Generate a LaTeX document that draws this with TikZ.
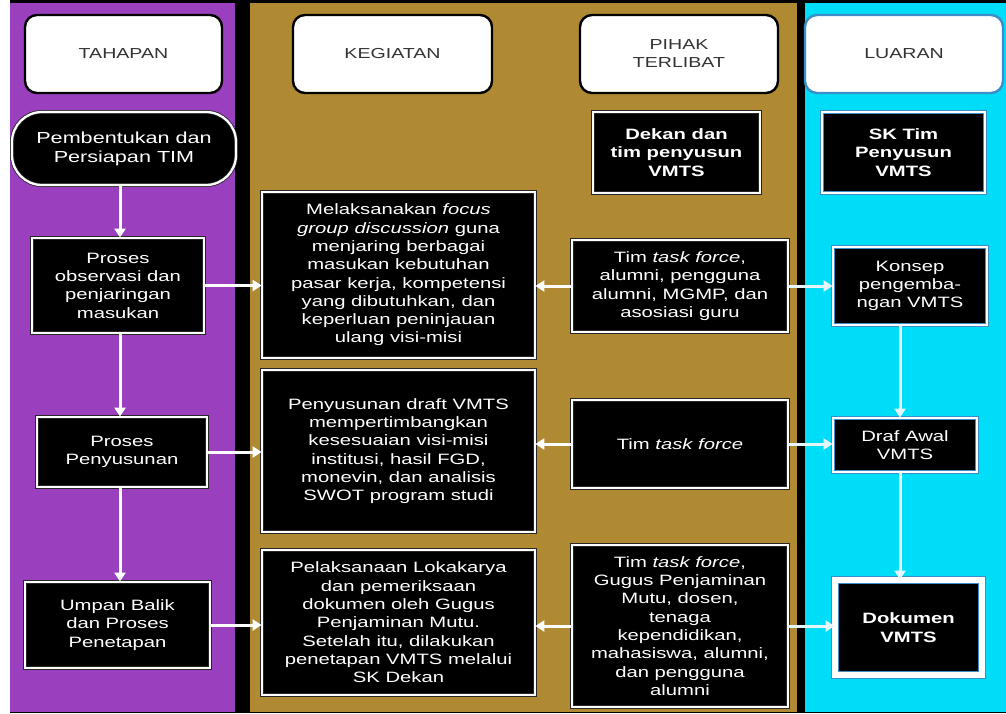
\documentclass[tikz,border=0pt]{standalone}
\usepackage{fontspec}
\setmainfont{Liberation Sans}[FakeStretch=1.35]
\usetikzlibrary{arrows.meta}
\definecolor{cpurple}{HTML}{9A3FBE}
\definecolor{cgold}{HTML}{B08A32}
\definecolor{ccyan}{HTML}{00DDF8}
\definecolor{hdrtext}{HTML}{333333}
\definecolor{lightarrow}{HTML}{E4F6FF}
\definecolor{blueedge}{HTML}{3A8FC8}
\tikzset{
  bodyfont/.style={font=\fontsize{15}{18.3}\selectfont},
  box/.style={rectangle, fill=black, draw=black!85, double=white, double distance=2.3pt, line width=0.8pt,
    text=white, align=center, inner sep=2pt, bodyfont},
  lbox/.style={box, draw=blueedge},
  hdr/.style={rectangle, rounded corners=12pt, fill=white, draw=black, line width=2.4pt,
    text=hdrtext, align=center, font=\fontsize{14.5}{18}\selectfont, minimum height=78pt},
  arr/.style={draw=white, line width=3pt, -{Triangle[length=9pt,width=11pt]}},
  larr/.style={arr, draw=lightarrow, fill=lightarrow},
}
\begin{document}
\begin{tikzpicture}[x=1pt,y=-1pt]
\useasboundingbox (0,0) rectangle (1006,713);
% background columns
\fill[white] (0,0) rectangle (1006,713);
\fill[black] (10,0) rectangle (1006,713);
\fill[cpurple] (10,3) rectangle (235,712);
\fill[cgold] (250,3) rectangle (797,712);
\fill[ccyan] (805,3) rectangle (1006,712);
% guide coordinates for vertical connectors
\coordinate (vt) at (120,0);
\coordinate (vl) at (900,0);
% headers
\node[hdr, minimum width=197pt] (hT) at (123.5,54) {TAHAPAN};
\node[hdr, minimum width=199pt] (hK) at (392.5,54) {KEGIATAN};
\node[hdr, minimum width=198pt] (hP) at (679,54) {PIHAK\\TERLIBAT};
\node[hdr, minimum width=198pt, draw=blueedge] (hL) at (904,54) {LUARAN};
% tahapan
\node[box, rounded corners=30pt, minimum width=224pt, minimum height=73pt, font=\fontsize{16}{19}\selectfont] (p0) at (124,148.5) {Pembentukan dan\\Persiapan TIM};
\node[box, minimum width=172pt, minimum height=95pt] (p1) at (118,285.5) {Proses\\observasi dan\\penjaringan\\masukan};
\node[box, minimum width=170pt, minimum height=70pt] (p2) at (122,452) {Proses\\Penyusunan};
\node[box, minimum width=185pt, minimum height=86pt] (p3) at (117.5,625) {Umpan Balik\\dan Proses\\Penetapan};
% kegiatan
\node[box, minimum width=273pt, minimum height=166pt] (k1) at (398.5,275) {Melaksanakan \textit{focus}\\\textit{group discussion} guna\\menjaring berbagai\\masukan kebutuhan\\pasar kerja, kompetensi\\yang dibutuhkan, dan\\keperluan peninjauan\\ulang visi-misi};
\node[box, minimum width=273pt, minimum height=162pt] (k2) at (398.5,451) {Penyusunan draft VMTS\\mempertimbangkan\\kesesuaian visi-misi\\institusi, hasil FGD,\\monevin, dan analisis\\SWOT program studi};
\node[box, minimum width=273pt, minimum height=145pt] (k3) at (398.5,622.5) {Pelaksanaan Lokakarya\\dan pemeriksaan\\dokumen oleh Gugus\\Penjaminan Mutu.\\Setelah itu, dilakukan\\penetapan VMTS melalui\\SK Dekan};
% pihak terlibat
\node[box, minimum width=167pt, minimum height=81pt, font=\bfseries\fontsize{15}{18.3}\selectfont] (t0) at (676.5,152.5) {Dekan dan\\tim penyusun\\VMTS};
\node[box, minimum width=216pt, minimum height=92pt] (t1) at (680,286) {Tim \textit{task force},\\alumni, pengguna\\alumni, MGMP, dan\\asosiasi guru};
\node[box, minimum width=216pt, minimum height=88pt] (t2) at (680,444) {Tim \textit{task force}};
\node[box, minimum width=216pt, minimum height=162pt] (t3) at (680,626) {Tim \textit{task force},\\Gugus Penjaminan\\Mutu, dosen,\\tenaga\\kependidikan,\\mahasiswa, alumni,\\dan pengguna\\alumni};
% luaran
\node[lbox, minimum width=163pt, minimum height=81pt, font=\bfseries\fontsize{15}{18.3}\selectfont] (l0) at (903.5,152.5) {SK Tim\\Penyusun\\VMTS};
\node[lbox, minimum width=154pt, minimum height=78pt] (l1) at (910,286) {Konsep\\pengemba-\\ngan VMTS};
\node[lbox, minimum width=144pt, minimum height=54pt] (l2) at (905,445) {Draf Awal\\VMTS};
\node[lbox, double distance=5.5pt, minimum width=147pt, minimum height=95pt, font=\bfseries\fontsize{15}{18.3}\selectfont] (l3) at (908.5,627.5) {Dokumen\\VMTS};
% vertical connectors
\draw[arr] (p0.south -| vt) -- (p1.north -| vt);
\draw[arr] (p1.south -| vt) -- (p2.north -| vt);
\draw[arr] (p2.south -| vt) -- (p3.north -| vt);
\draw[larr] (l1.south -| vl) -- (l2.north -| vl);
\draw[larr] (l2.south -| vl) -- (l3.north -| vl);
% horizontal connectors
\draw[arr] (p1.east) -- (p1.east -| k1.west);
\draw[arr] (p2.east) -- (p2.east -| k2.west);
\draw[arr] (p3.east) -- (p3.east -| k3.west);
\draw[arr] (t1.west) -- (t1.west -| k1.east);
\draw[arr] (t2.west) -- (t2.west -| k2.east);
\draw[arr] (t3.west) -- (t3.west -| k3.east);
\draw[larr] (t1.east) -- (t1.east -| l1.west);
\draw[larr] (t2.east) -- (t2.east -| l2.west);
\draw[larr] (t3.east) -- (t3.east -| l3.west);
\end{tikzpicture}
\end{document}
